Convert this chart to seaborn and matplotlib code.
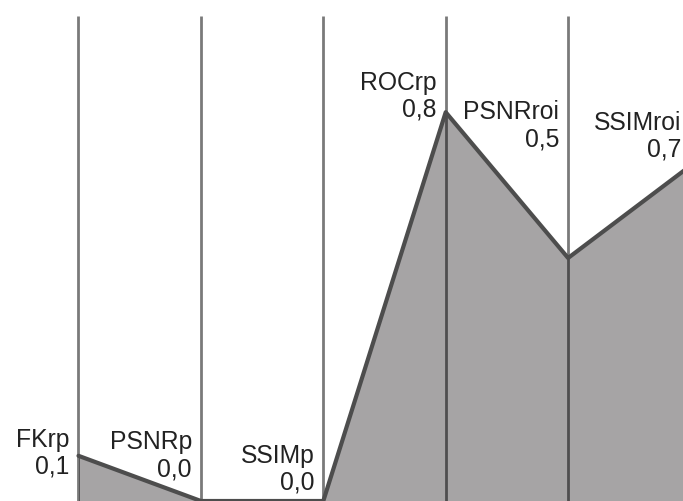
import matplotlib
matplotlib.use("Agg")
import matplotlib.pyplot as plt
import seaborn as sns
import pandas as pd

categories = ["FKrp", "PSNRp", "SSIMp", "ROCrp", "PSNRroi", "SSIMroi"]
values = [0.093, 0.0, 0.0, 0.80, 0.50, 0.69]
value_labels = ["0,1", "0,0", "0,0", "0,8", "0,5", "0,7"]
label_y = [0.100, 0.095, 0.068, 0.835, 0.774, 0.753]

sns.set_style("white")
plt.rcParams["font.family"] = ["Liberation Sans", "DejaVu Sans"]

df = pd.DataFrame({"pos": range(len(categories)), "value": values, "cat": categories})

fig = plt.figure(figsize=(6.83, 5.02), dpi=100)
ax = fig.add_axes([0, 0, 1, 1])

ax.fill_between(df["pos"], 0, df["value"], color="#a6a4a5", lw=0, zorder=1)
ax.vlines(df["pos"], 0, 0.997, color="black", alpha=0.52, lw=2.0, zorder=2)
sns.lineplot(data=df, x="pos", y="value", ax=ax, color="#4d4d4d", lw=3.0,
             zorder=3, sort=False)

dx = 9 / 122.4
for i, (c, lab, ly) in enumerate(zip(categories, value_labels, label_y)):
    ax.text(i - dx, ly, f"{c}\n{lab}", ha="right", va="center",
            multialignment="right", fontsize=17.8, color="#222222",
            linespacing=1.15, zorder=4)

ax.set_xlim(-78.5 / 122.4, (683 - 78.5) / 122.4)
ax.set_ylim(0.0, 502 / 486)
ax.axis("off")
fig.savefig("out.png", dpi=100)
